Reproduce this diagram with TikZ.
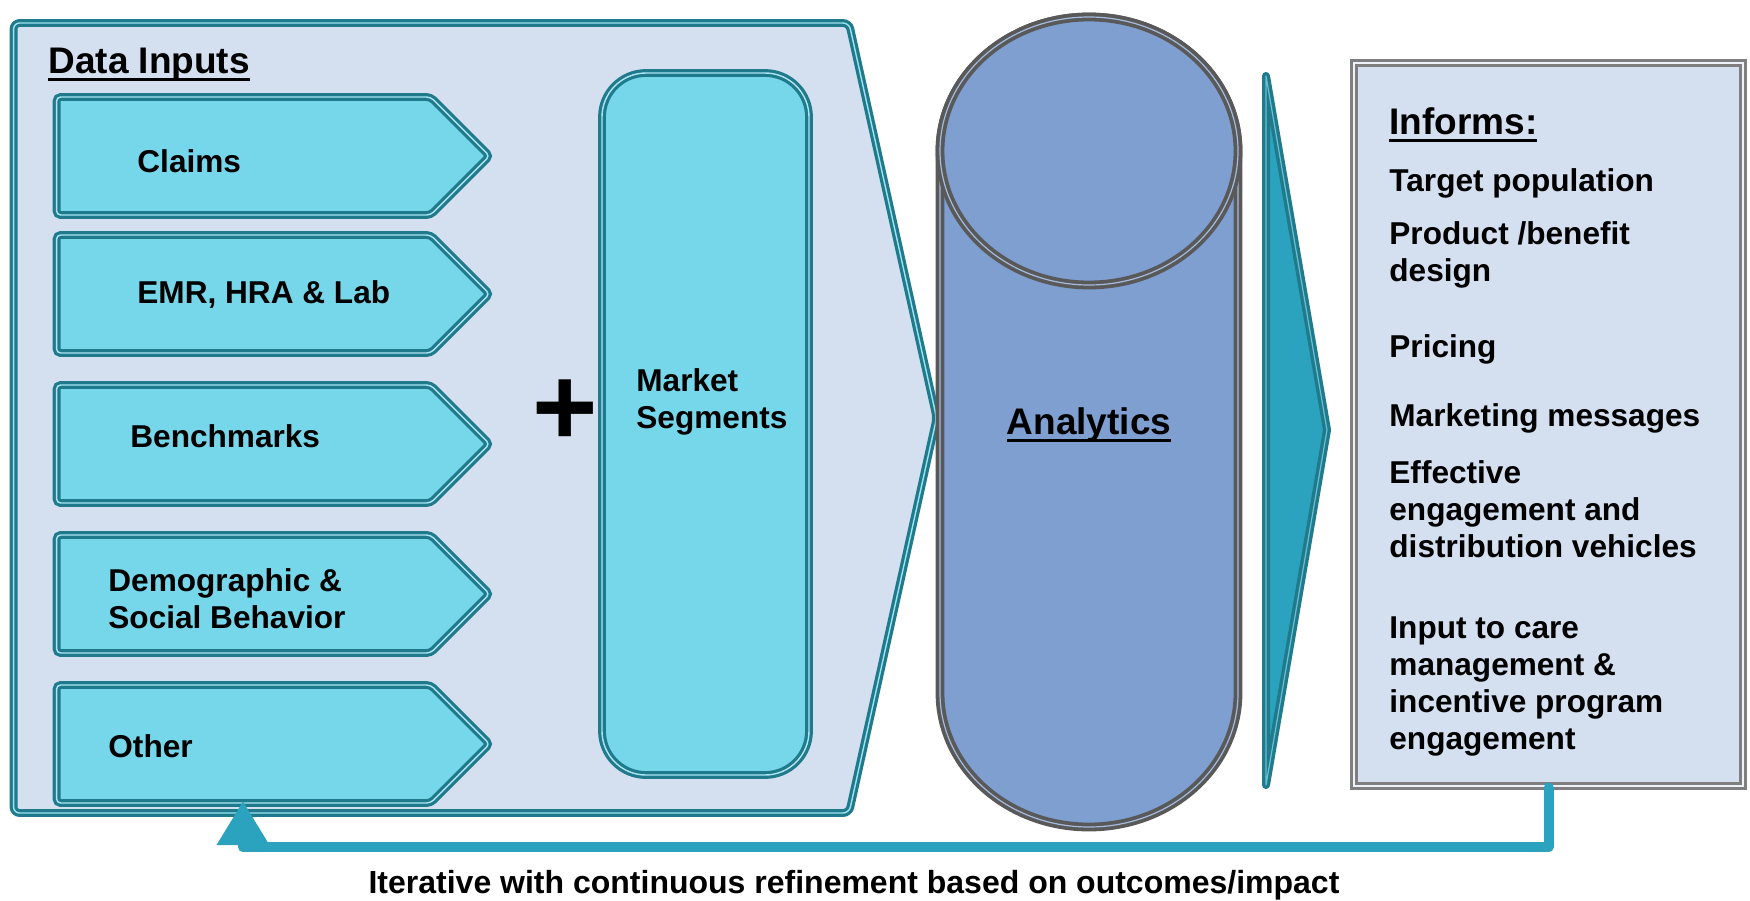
\documentclass[tikz,border=0pt]{standalone}
\usepackage{fontspec}
\setmainfont{Liberation Sans}
\usetikzlibrary{shapes.symbols,arrows.meta,positioning}

\definecolor{panel}{HTML}{D4DFEF}
\definecolor{tealline}{HTML}{1F7A8C}
\definecolor{inputfill}{HTML}{76D6EA}
\definecolor{cylfill}{HTML}{7E9FD0}
\definecolor{cylline}{HTML}{595959}
\definecolor{chevfill}{HTML}{2CA3BE}
\definecolor{boxline}{HTML}{7F7F7F}

\newcommand{\headul}[1]{\setbox0\hbox{#1}\rlap{\rule[-4.2pt]{\wd0}{1.6pt}}\box0}

\begin{document}
\begin{tikzpicture}[x=0.5pt, y=-0.5pt, node distance=75pt]

% definitions
\tikzstyle{frame} = [signal, signal to=east, signal pointer angle=155, minimum width=461.5pt, minimum height=395pt, inner sep=0pt, rounded corners=3pt, fill=panel, draw=tealline, line width=1.6pt, double=inputfill!70!white, double distance=0.7pt]

\tikzstyle{input} = [signal, signal to=east, signal pointer angle=90, minimum width=216.5pt, minimum height=59pt, inner sep=0pt, rounded corners=2pt, fill=inputfill, draw=tealline, line width=1.6pt, double=inputfill!60!white, double distance=0.7pt]

\tikzstyle{segment} = [rectangle, minimum width=103.5pt, minimum height=351pt, rounded corners=22pt, fill=inputfill, draw=tealline, line width=1.6pt, double=inputfill!60!white, double distance=0.7pt]

\tikzstyle{cyl} = [fill=cylfill, draw=cylline, line width=1.9pt, double=cylfill!70!white, double distance=0.6pt]

\tikzstyle{chevron} = [fill=chevfill, draw=tealline, line width=1.7pt, double=chevfill!70!white, double distance=0.6pt, line join=round]

\tikzstyle{outbox} = [rectangle, minimum width=194.5pt, minimum height=361.5pt, fill=panel, draw=boxline, line width=1.6pt, double=panel!40!white, double distance=0.7pt]

\tikzstyle{headtext} = [inner sep=0pt, font=\fontsize{18.5}{22}\selectfont\bfseries]
\tikzstyle{boxtext} = [inner sep=0pt, align=left, font=\fontsize{15.8}{18.5}\selectfont\bfseries]

\tikzstyle{feedback} = [draw=chevfill, line width=5pt, line cap=round, line join=round, -{Triangle[length=22pt,width=25pt]}]

% the panel of inputs
\node (inputs) [frame, anchor=west] at (12,418) {};
\node (inputshead) [headtext, anchor=base west] at (48,73) {\headul{Data Inputs}};

\node (claims) [input, anchor=west] at (55,156) {};
\node (emr) [input, below of=claims, yshift=6pt] {};
\node (bench) [input, below of=emr] {};
\node (demo) [input, below of=bench] {};
\node (other) [input, below of=demo] {};

\node (claimstxt) [boxtext, anchor=base west, xshift=41pt, yshift=-8pt] at (claims.west) {Claims};
\node (emrtxt) [boxtext, anchor=base west, xshift=41pt, yshift=-4.5pt] at (emr.west) {EMR, HRA \& Lab};
\node (benchtxt) [boxtext, anchor=base west, xshift=37.5pt, yshift=-1.5pt] at (bench.west) {Benchmarks};
\node (demotxt) [boxtext, anchor=base west, xshift=26.5pt, yshift=-17pt] at (demo.west) {Demographic \&\\Social Behavior};
\node (othertxt) [boxtext, anchor=base west, xshift=26.5pt, yshift=-6.5pt] at (other.west) {Other};

\node (plus) [inner sep=0pt, font=\fontsize{56}{56}\selectfont\bfseries] at (565,413) {+};

\node (segments) [segment] at (705.5,424) {};
\node (segtxt) [boxtext, anchor=base west] at (636,428) {Market\\Segments};

% analytics
\draw [cyl] (940,151) -- (940,693) arc [start angle=180, end angle=360, x radius=74.5pt, y radius=67pt] -- (1238,151) arc [start angle=0, end angle=180, x radius=74.5pt, y radius=67pt] -- cycle;
\draw [cyl] (1089,151) ellipse [x radius=74.5pt, y radius=67pt];
\node (analytics) [headtext, anchor=base] at (1089,434) {\headul{Analytics}};

\draw [chevron] (1266,76) -- (1327,430) -- (1266,785) -- cycle;

% what it informs
\node (informs) [outbox] at (1548.5,424.5) {};
\node (informshead) [headtext, anchor=base west] at (1389,134) {\headul{Informs:}};
\node (target) [boxtext, anchor=base west] at (1389,191) {Target population};
\node (product) [boxtext, anchor=base west] at (1389,281) {Product /benefit\\design};
\node (pricing) [boxtext, anchor=base west] at (1389,357) {Pricing};
\node (messages) [boxtext, anchor=base west] at (1389,426) {Marketing messages};
\node (vehicles) [boxtext, anchor=base west] at (1389,557) {Effective\\engagement and\\distribution vehicles};
\node (caremgmt) [boxtext, anchor=base west] at (1389,749) {Input to care\\management \&\\incentive program\\engagement};

% loop back
\coordinate (fbturn) at (243,847);
\coordinate (fbend) at (243,801);
\draw [feedback] (informs.south) |- (fbturn) -- (fbend);

\node (note) [anchor=base, inner sep=0pt, font=\fontsize{16}{19}\selectfont\bfseries] at (854,893) {Iterative with continuous refinement based on outcomes/impact};

\useasboundingbox (0,0) rectangle (1750,900);

\end{tikzpicture}
\end{document}
